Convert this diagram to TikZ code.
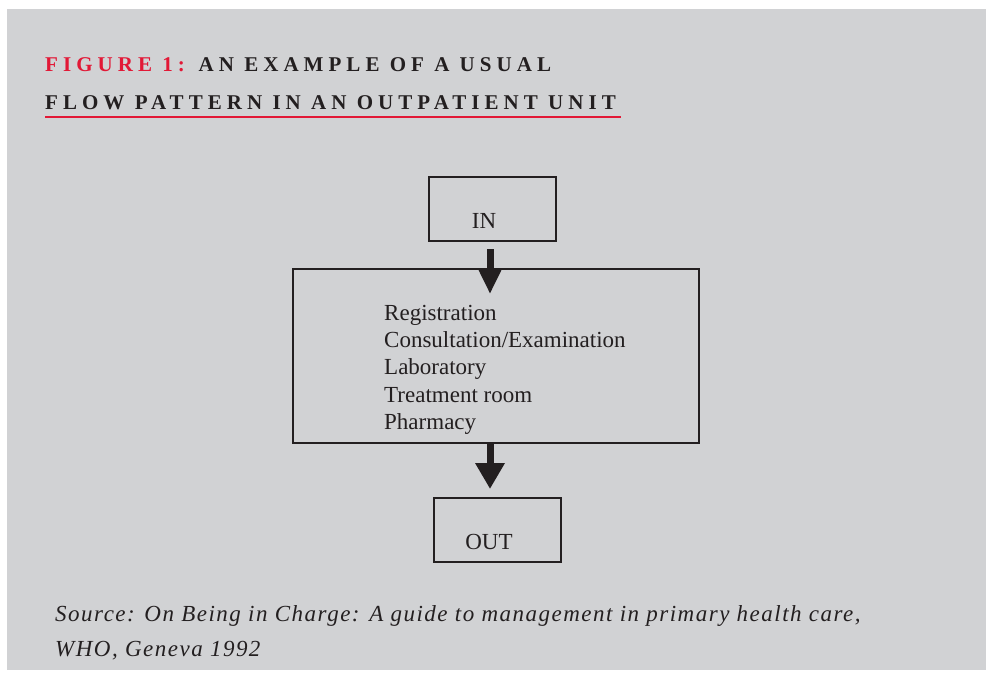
\documentclass[tikz,border=0pt]{standalone}
\usepackage{fontspec}
\setmainfont{Liberation Serif}
\usetikzlibrary{arrows.meta}
\definecolor{bggray}{RGB}{209,210,212}
\definecolor{figred}{RGB}{226,24,54}
\definecolor{ink}{RGB}{35,31,32}
\tikzset{
  box/.style={draw=ink, line width=1.8pt, minimum height=64pt, inner sep=0pt},
  boxtext/.style={text=ink, font=\fontsize{23}{27}\selectfont},
  flowarrow/.style={draw=ink, line width=7pt},
  titletext/.style={anchor=base west, inner sep=0pt, text=ink},
}
\newcommand{\ttlfont}{\fontsize{21}{24}\selectfont\bfseries\addfontfeature{LetterSpace=24}}
\newcommand{\srcfont}{\fontsize{23}{35}\selectfont\itshape\addfontfeature{LetterSpace=6.5}}
\begin{document}
\begin{tikzpicture}[x=1pt,y=-1pt]
\useasboundingbox (0,0) rectangle (986,677);
\fill[white] (0,0) rectangle (986,677);
\fill[bggray] (7,9) rectangle (986,670);
% title
\node[titletext] (t1) at (45,72) {\ttlfont\textcolor{figred}{FIGURE 1:} AN EXAMPLE OF A USUAL};
\node[titletext] (t2) at (45,110) {\ttlfont FLOW PATTERN IN AN OUTPATIENT UNIT};
\draw[figred, line width=1.6pt] (45,117) -- (621,117);
% boxes
\node[box, minimum width=127pt] (in) at (492.5,209) {};
\node[boxtext, anchor=base] (intext) at (484,228) {IN};
\node[box, minimum width=406pt, minimum height=174pt] (mid) at (496,356) {};
\node[boxtext, anchor=base west, inner sep=0pt] (s1) at (384,320) {Registration};
\node[boxtext, anchor=base west, inner sep=0pt] (s2) at (384,347) {Consultation/Examination};
\node[boxtext, anchor=base west, inner sep=0pt] (s3) at (384,374) {Laboratory};
\node[boxtext, anchor=base west, inner sep=0pt] (s4) at (384,402) {Treatment room};
\node[boxtext, anchor=base west, inner sep=0pt] (s5) at (384,429) {Pharmacy};
\node[box, minimum width=127pt] (out) at (497.5,530) {};
\node[boxtext, anchor=base] (outtext) at (489,549) {OUT};
% arrows
\coordinate (a1s) at (490,249);
\coordinate (a1e) at (490,294);
\coordinate (a2s) at (490,444);
\coordinate (a2e) at (490,489);
\draw[flowarrow, -{Triangle[width=21pt,length=24pt]}] (a1s) -- (a1e);
\draw[flowarrow, -{Triangle[width=28pt,length=26pt]}] (a2s) -- (a2e);
% source
\node[titletext] (src) at (55,621)
  {\srcfont Source: On Being in Charge: A guide to management in primary health care,};
\node[titletext] (src2) at (55,656)
  {\srcfont WHO, Geneva 1992};
\end{tikzpicture}
\end{document}
